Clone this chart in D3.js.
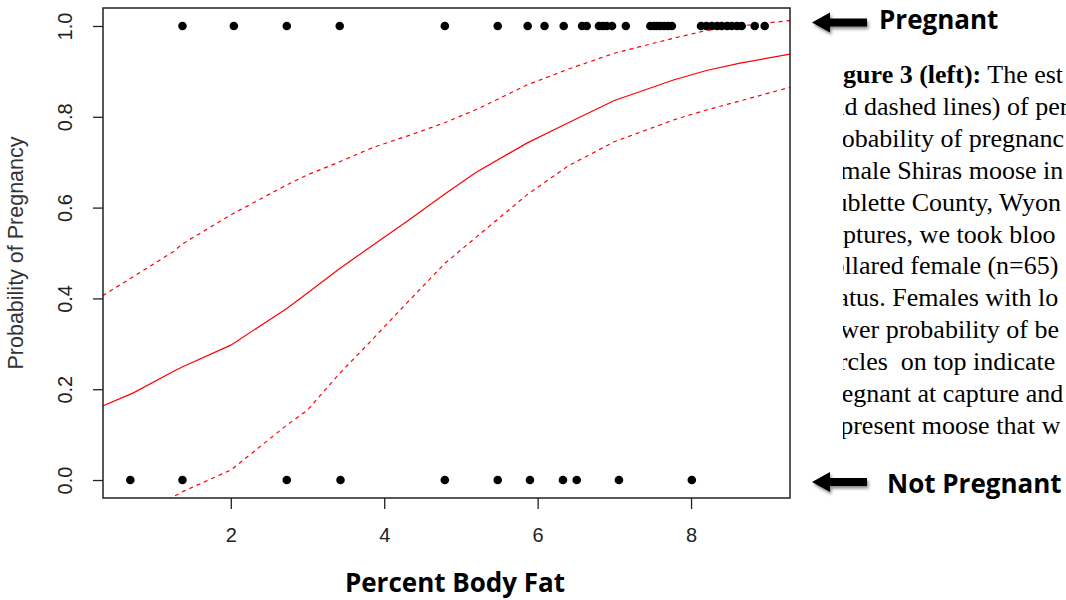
<!DOCTYPE html>
<html>
<head>
<meta charset="utf-8">
<script src="https://cdn.jsdelivr.net/npm/d3@7"></script>
<style>
body { margin: 0; background: #fff; }
svg { display: block; }
</style>
</head>
<body>
<script>
var w = 1066;
var h = 600;

// observed moose: body fat of pregnant (y = 1) and not pregnant (y = 0)
var pregX = [1.37, 2.04, 2.73, 3.42, 4.79, 5.48, 5.87, 6.09, 6.34, 6.58, 6.64, 6.80, 6.85, 6.90, 6.97,
             7.15, 7.47, 7.52, 7.56, 7.60, 7.65, 7.70, 7.75, 8.13, 8.20, 8.27, 8.34, 8.40, 8.47, 8.53,
             8.60, 8.66, 8.83, 8.96];
var notPregX = [0.69, 1.37, 2.73, 3.43, 4.79, 5.48, 5.90, 6.33, 6.51, 7.06, 8.01];

// fitted probability and confidence band
var fitX   = [0.33, 0.73, 1.25, 1.38, 2.00, 2.73, 3.00, 3.42, 3.86, 4.29, 4.79, 5.20, 5.86, 6.40, 7.00, 7.77, 8.20, 8.64, 9.29];
var fitP   = [0.163, 0.192, 0.239, 0.250, 0.297, 0.378, 0.412, 0.466, 0.518, 0.569, 0.630, 0.678, 0.742, 0.787, 0.836, 0.881, 0.902, 0.918, 0.938];
var upperP = [0.406, 0.448, 0.503, 0.521, 0.584, 0.650, 0.672, 0.701, 0.733, 0.757, 0.787, 0.816, 0.870, 0.905, 0.940, 0.973, 0.990, 1.000, 1.012];
var lowerP = [-0.11, -0.078, -0.037, -0.025, 0.022, 0.121, 0.154, 0.235, 0.312, 0.389, 0.477, 0.535, 0.628, 0.692, 0.745, 0.793, 0.815, 0.835, 0.865];

var xTicks = [2, 4, 6, 8];
var yTicks = [0, 0.2, 0.4, 0.6, 0.8, 1.0];

var captionBold = "Figure 3 (left):";
var captionLines = [
    " The est",
    "and dashed lines) of per",
    "probability of pregnanc",
    "female Shiras moose in",
    "Sublette County, Wyon",
    "captures, we took bloo",
    "collared female (n=65)",
    "status. Females with lo",
    "lower probability of be",
    "circles  on top indicate",
    "pregnant at capture and",
    "represent moose that w"
];

var plot = { left: 103, right: 790, top: 8, bottom: 498 };

var xScale = d3.scaleLinear()
    .domain([0.334, 9.29])
    .range([plot.left, plot.right]);

var yScale = d3.scaleLinear()
    .domain([-0.0396, 1.0396])
    .range([plot.bottom, plot.top]);

var svg = d3.select("body")
    .append("svg")
    .attr("width", w)
    .attr("height", h);

svg.append("rect")
    .attr("width", w)
    .attr("height", h)
    .attr("fill", "#fff");

var defs = svg.append("defs");
defs.append("clipPath")
    .attr("id", "plotClip")
    .append("rect")
    .attr("x", plot.left)
    .attr("y", plot.top)
    .attr("width", plot.right - plot.left)
    .attr("height", plot.bottom - plot.top);

defs.append("clipPath")
    .attr("id", "textClip")
    .append("rect")
    .attr("x", 843)
    .attr("y", 40)
    .attr("width", w - 843)
    .attr("height", 420);

var shadow = defs.append("filter")
    .attr("id", "shadow")
    .attr("x", "-20%").attr("y", "-50%")
    .attr("width", "140%").attr("height", "200%");
shadow.append("feDropShadow")
    .attr("dx", 1.5)
    .attr("dy", 2.5)
    .attr("stdDeviation", 1.8)
    .attr("flood-color", "#000")
    .attr("flood-opacity", 0.45);

// x axis
var xAxis = d3.axisBottom(xScale)
    .tickValues(xTicks)
    .tickSize(11)
    .tickPadding(19)
    .tickFormat(d3.format("d"));

var gx = svg.append("g")
    .attr("transform", "translate(0," + plot.bottom + ")")
    .call(xAxis);
gx.select(".domain").remove();
gx.selectAll("line").attr("stroke", "#222").attr("stroke-width", 1.3);
gx.selectAll("text")
    .attr("fill", "#222")
    .style("font-family", "'Liberation Sans', Arial, sans-serif")
    .style("font-size", "20px");

// y axis, labels parallel to the axis as R does
var yAxis = d3.axisLeft(yScale)
    .tickValues(yTicks)
    .tickSize(10)
    .tickPadding(21)
    .tickFormat(d3.format(".1f"));

var gy = svg.append("g")
    .attr("transform", "translate(" + plot.left + ",0)")
    .call(yAxis);
gy.select(".domain").remove();
gy.selectAll("line").attr("stroke", "#222").attr("stroke-width", 1.3);
gy.selectAll("text")
    .attr("x", 0)
    .attr("y", -31)
    .attr("dy", null)
    .attr("transform", "rotate(-90)")
    .attr("text-anchor", "middle")
    .attr("fill", "#222")
    .style("font-family", "'Liberation Sans', Arial, sans-serif")
    .style("font-size", "20px");

// fitted line and confidence limits
var line = d3.line()
    .x(function(d) { return xScale(d[0]); })
    .y(function(d) { return yScale(d[1]); });

var curves = svg.append("g").attr("clip-path", "url(#plotClip)");

[[fitP, null], [upperP, "4,4"], [lowerP, "4,4"]].forEach(function(c) {
    curves.append("path")
        .datum(d3.zip(fitX, c[0]))
        .attr("d", line)
        .attr("fill", "none")
        .attr("stroke", "#ff0000")
        .attr("stroke-width", 1.2)
        .attr("stroke-dasharray", c[1]);
});

// observations
svg.append("g")
    .selectAll("circle.preg")
    .data(pregX)
    .enter()
    .append("circle")
    .attr("cx", function(d) { return xScale(d); })
    .attr("cy", yScale(1))
    .attr("r", 4.3)
    .attr("fill", "#000");

svg.append("g")
    .selectAll("circle.notpreg")
    .data(notPregX)
    .enter()
    .append("circle")
    .attr("cx", function(d) { return xScale(d); })
    .attr("cy", yScale(0))
    .attr("r", 4.3)
    .attr("fill", "#000");

// plot frame
svg.append("rect")
    .attr("x", plot.left)
    .attr("y", plot.top)
    .attr("width", plot.right - plot.left)
    .attr("height", plot.bottom - plot.top)
    .attr("fill", "none")
    .attr("stroke", "#222")
    .attr("stroke-width", 1.5);

// axis titles
svg.append("text")
    .attr("transform", "translate(23," + ((plot.top + plot.bottom) / 2) + ") rotate(-90)")
    .attr("text-anchor", "middle")
    .attr("fill", "#333")
    .style("font-family", "'Liberation Sans', Arial, sans-serif")
    .style("font-size", "21.5px")
    .text("Probability of Pregnancy");

svg.append("text")
    .attr("x", 455)
    .attr("y", 592)
    .attr("text-anchor", "middle")
    .attr("fill", "#000")
    .style("font-family", "'Open Sans', sans-serif")
    .style("font-weight", "bold")
    .style("font-size", "26px")
    .text("Percent Body Fat");

// arrows with labels
function arrow(yc) {
    var p = d3.path();
    p.moveTo(812, yc);
    p.lineTo(830, yc - 10);
    p.lineTo(830, yc - 4);
    p.lineTo(867, yc - 4);
    p.lineTo(867, yc + 4);
    p.lineTo(830, yc + 4);
    p.lineTo(830, yc + 10);
    p.closePath();
    svg.append("path")
        .attr("d", p.toString())
        .attr("fill", "#000")
        .attr("filter", "url(#shadow)");
}
arrow(22.5);
arrow(482);

svg.append("text")
    .attr("x", 879)
    .attr("y", 28.5)
    .style("font-family", "'Open Sans', sans-serif")
    .style("font-weight", "bold")
    .style("font-size", "26px")
    .text("Pregnant");

svg.append("text")
    .attr("x", 887)
    .attr("y", 493)
    .style("font-family", "'Open Sans', sans-serif")
    .style("font-weight", "bold")
    .style("font-size", "26px")
    .text("Not Pregnant");

// caption text partly hidden behind the chart image
var caption = svg.append("g").attr("clip-path", "url(#textClip)");
captionLines.forEach(function(s, i) {
    var t = caption.append("text")
        .attr("x", 820)
        .attr("y", 83 + i * 31.9)
        .attr("fill", "#000")
        .style("font-family", "'Liberation Serif', 'Times New Roman', serif")
        .style("font-size", "26px")
        .style("white-space", "pre");
    if (i === 0) {
        t.append("tspan").style("font-weight", "bold").text(captionBold);
    }
    t.append("tspan").text(s);
});
</script>
</body>
</html>
